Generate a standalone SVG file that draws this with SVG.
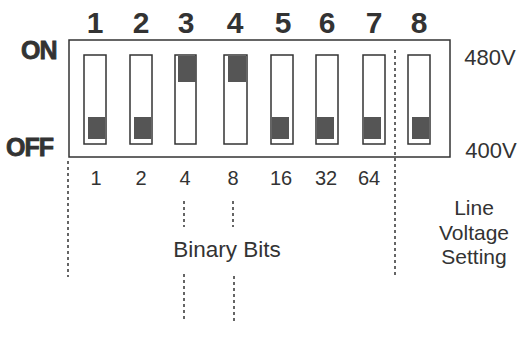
<svg xmlns="http://www.w3.org/2000/svg" width="526" height="338" viewBox="0 0 526 338">
<style>
.big{font-family:"Liberation Sans",Arial,sans-serif;font-weight:bold;font-size:30px;fill:#333;text-anchor:middle}
.lbl{font-family:"Liberation Sans",Arial,sans-serif;font-size:20px;fill:#333;text-anchor:middle}
.mid{font-family:"Liberation Sans",Arial,sans-serif;font-size:21px;fill:#333;text-anchor:middle}
.onoff{font-family:"Liberation Sans",Arial,sans-serif;font-weight:bold;font-size:25px;fill:#333;stroke:#333;stroke-width:0.8;letter-spacing:-1px}
.slot{fill:#fff;stroke:#333;stroke-width:1.5}
.knob{fill:#555}
.dash{stroke:#333;stroke-width:1.5;fill:none;stroke-dasharray:3 3}
</style>
<rect width="526" height="338" fill="#fff"/>
<rect id="frame" x="69" y="40" width="381" height="117" fill="#fff" stroke="#333" stroke-width="1.5"/>
<text class="onoff" x="21" y="59">ON</text>
<text class="onoff" x="6" y="156">OFF</text>
<text class="mid" x="490" y="65" style="font-size:22px">480V</text>
<text class="mid" x="491" y="158" style="font-size:22px">400V</text>
<g id="sw1"><text class="big" x="95" y="33">1</text><rect class="slot" x="84" y="55" width="22" height="89"/><rect class="knob" x="88" y="117" width="17" height="22"/><text class="lbl" x="96" y="185">1</text></g>
<g id="sw2"><text class="big" x="141" y="33">2</text><rect class="slot" x="130" y="55" width="22" height="89"/><rect class="knob" x="134" y="117" width="17" height="22"/><text class="lbl" x="141" y="185">2</text></g>
<g id="sw3"><text class="big" x="186" y="33">3</text><rect class="slot" x="175" y="55" width="21" height="89"/><rect class="knob" x="178" y="56" width="18" height="26"/><text class="lbl" x="185" y="185">4</text></g>
<g id="sw4"><text class="big" x="235" y="33">4</text><rect class="slot" x="224" y="55" width="23" height="89"/><rect class="knob" x="228" y="56" width="18" height="26"/><text class="lbl" x="233" y="185">8</text></g>
<g id="sw5"><text class="big" x="283" y="33">5</text><rect class="slot" x="271" y="55" width="22" height="89"/><rect class="knob" x="272" y="117" width="17" height="22"/><text class="lbl" x="281" y="185">16</text></g>
<g id="sw6"><text class="big" x="327" y="33">6</text><rect class="slot" x="316" y="55" width="22" height="89"/><rect class="knob" x="317" y="117" width="17" height="22"/><text class="lbl" x="326" y="185">32</text></g>
<g id="sw7"><text class="big" x="374" y="33">7</text><rect class="slot" x="363" y="55" width="22" height="89"/><rect class="knob" x="364" y="117" width="17" height="22"/><text class="lbl" x="369" y="185">64</text></g>
<g id="sw8"><text class="big" x="419" y="33">8</text><rect class="slot" x="408" y="55" width="22" height="89"/><rect class="knob" x="412" y="117" width="17" height="22"/></g>
<g id="binary"><text class="mid" x="227" y="257" style="font-size:22.5px">Binary Bits</text></g>
<g id="line"><text class="mid" x="474" y="215">Line</text><text class="mid" x="474" y="240">Voltage</text><text class="mid" x="474" y="264">Setting</text></g>
<g id="connectors">
<line class="dash" x1="68" y1="161" x2="68" y2="277"/>
<line class="dash" x1="395" y1="50" x2="395" y2="277"/>
<line class="dash" x1="184" y1="201" x2="184" y2="227"/>
<line class="dash" x1="233" y1="201" x2="233" y2="227"/>
<line class="dash" x1="184" y1="274" x2="184" y2="321"/>
<line class="dash" x1="234" y1="276" x2="234" y2="324"/>
</g>
</svg>
